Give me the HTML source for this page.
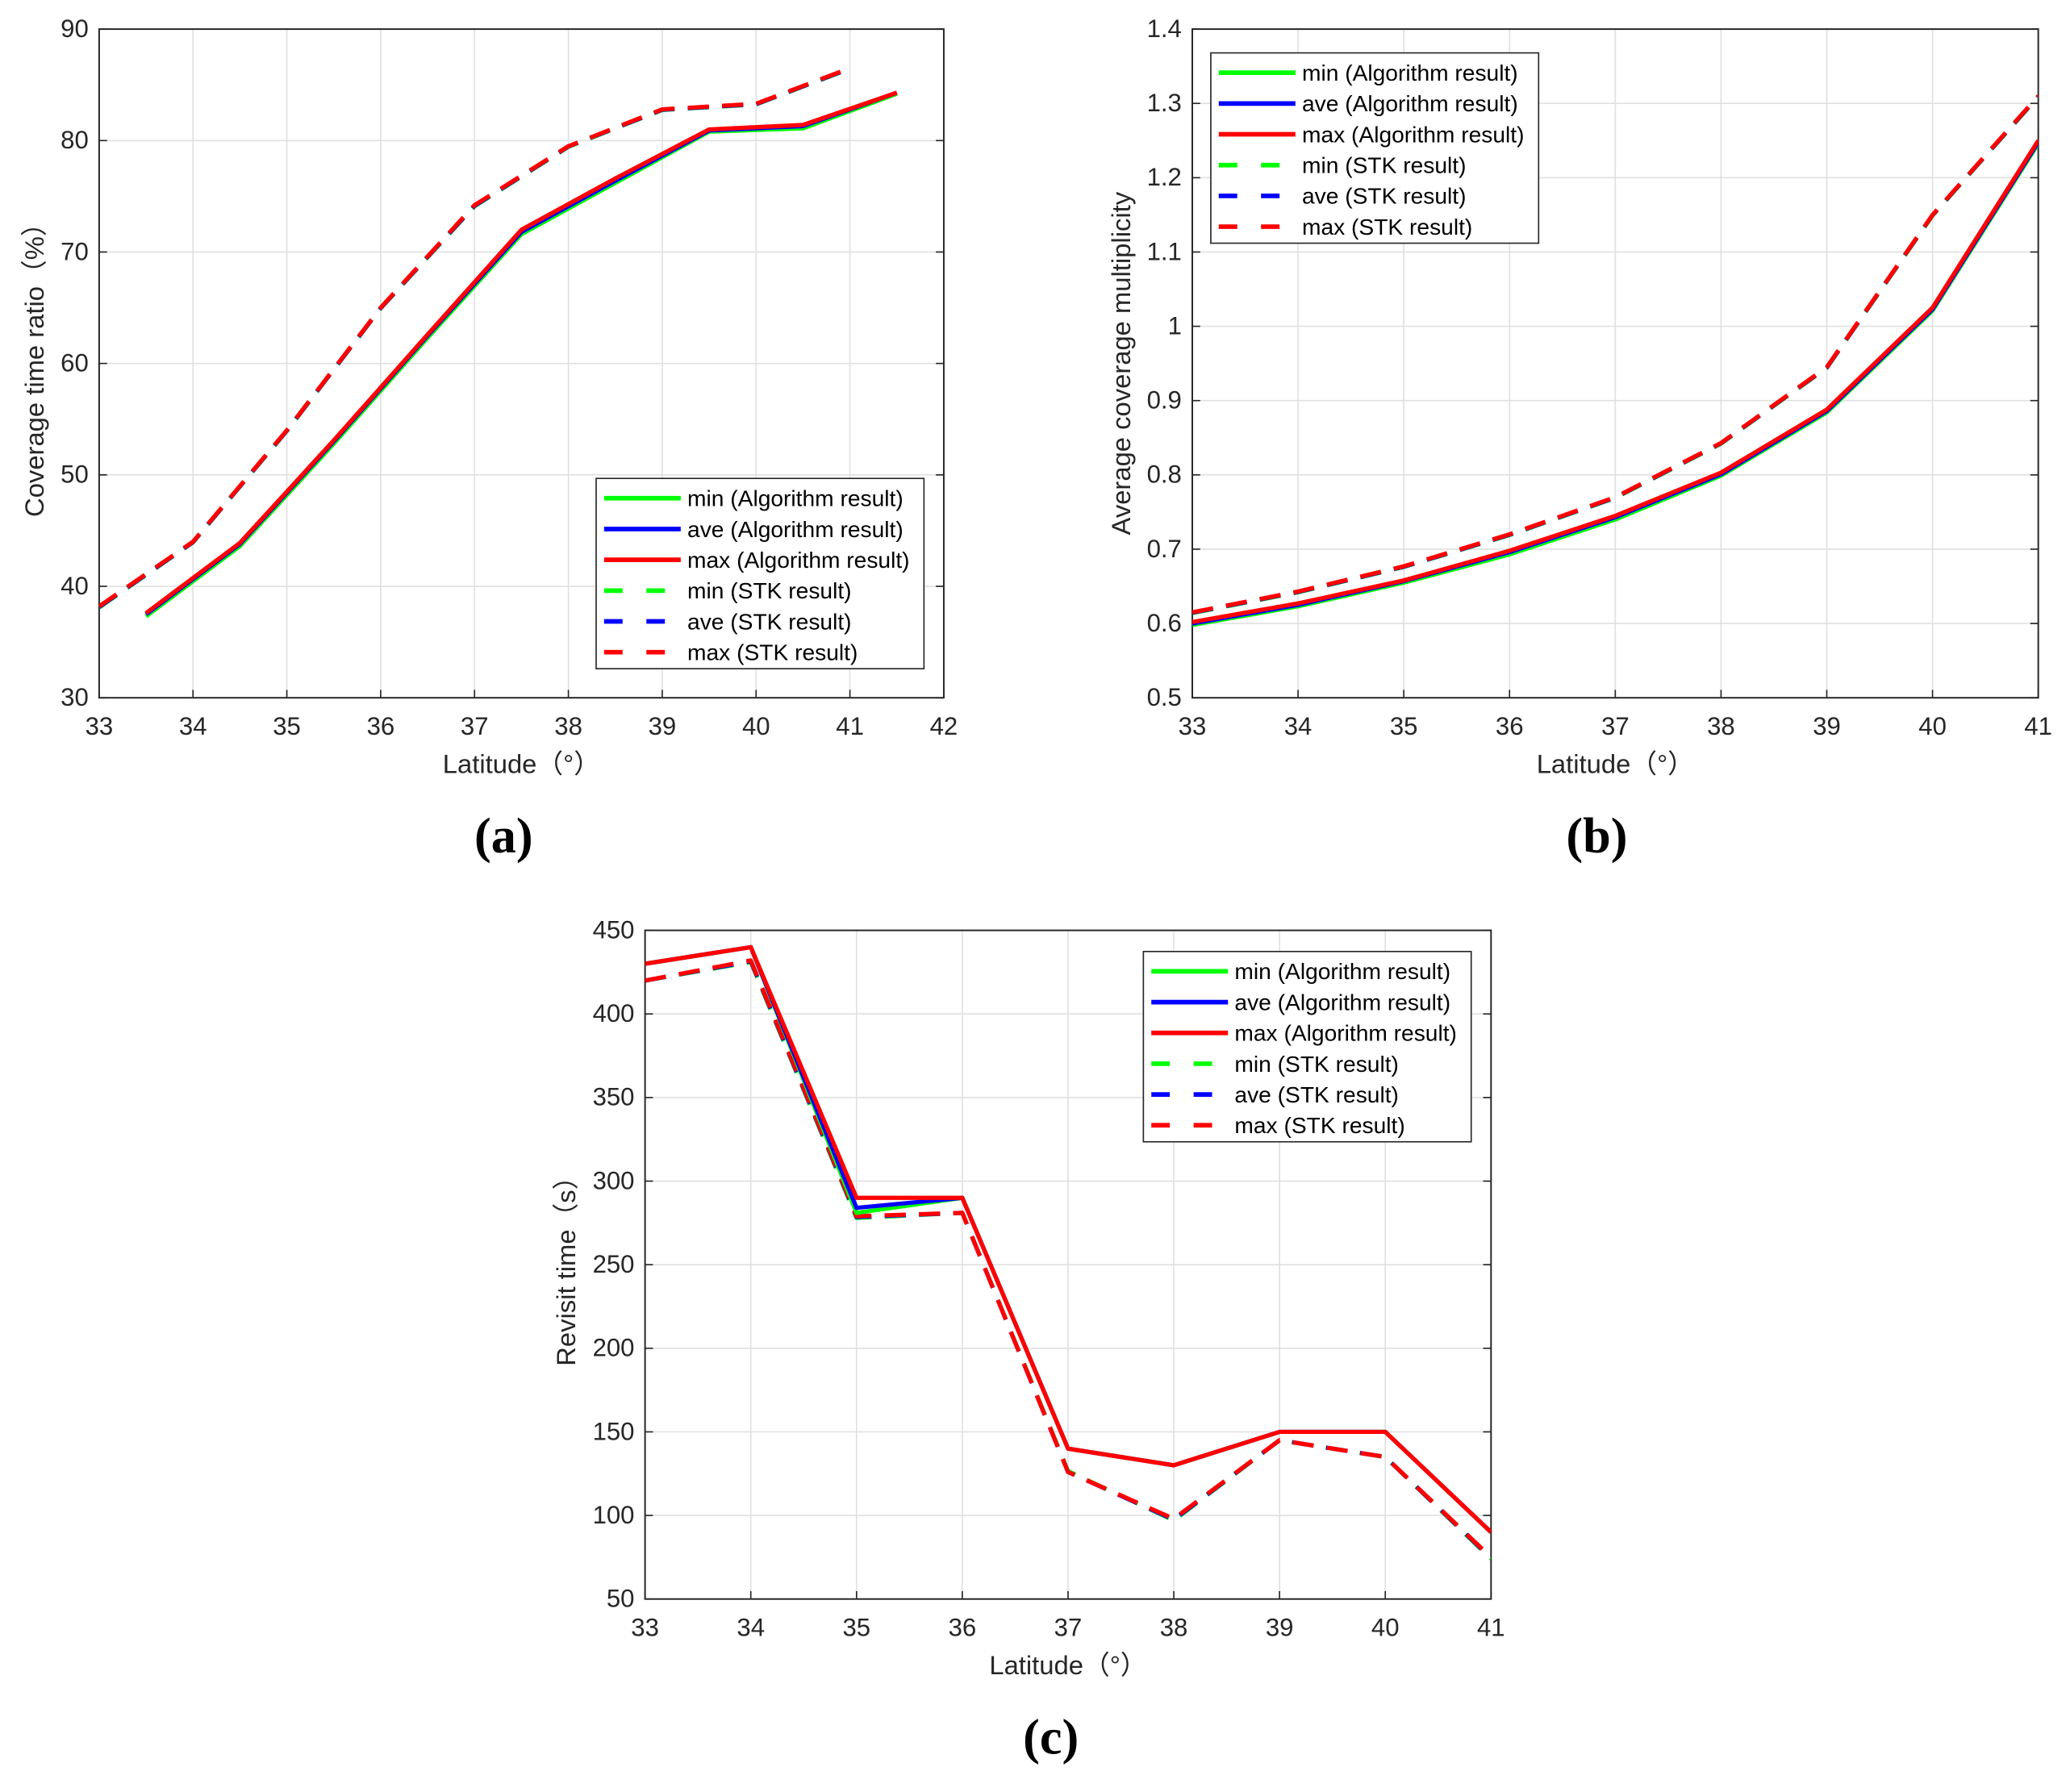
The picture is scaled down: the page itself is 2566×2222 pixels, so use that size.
<!DOCTYPE html>
<html><head><meta charset="utf-8"><style>
html,body{margin:0;padding:0;background:#fff;}
svg{display:block;font-family:"Liberation Sans",Arial,sans-serif;}
</style></head><body>
<svg id="fig" width="2566" height="2222" viewBox="0 0 1566 1356"></svg>
<script>
// Panel a data
const aAlgX = [33.5,34.5,35.5,36.5,37.5,38.5,39.5,40.5,41.5];
const aAlgMax = [37.6,43.9,53.1,62.6,72.0,76.6,81.0,81.4,84.3];
const aAlgAve = [37.5,43.8,53.0,62.5,71.8,76.4,80.9,81.3,84.3];
const aAlgMin = [37.3,43.6,52.8,62.3,71.6,76.2,80.8,81.1,84.2];
const aStkX = [33,34,35,36,37,38,39,40,41];
const aStkMax = [38.2,44.0,54.0,65.0,74.2,79.5,82.8,83.3,86.5];
const aStkAve = [38.15,43.97,53.97,64.97,74.15,79.47,82.77,83.27,86.47];
const aStkMin = [38.1,43.94,53.94,64.94,74.1,79.44,82.74,83.24,86.44];
const aXTicks = [33,34,35,36,37,38,39,40,41,42];
const aYTicks = [30,40,50,60,70,80,90];
// Panel b data
const bX = [33,34,35,36,37,38,39,40,41];
const bAlgMax = [0.602,0.627,0.658,0.698,0.745,0.803,0.888,1.025,1.25];
const bAlgAve = [0.600,0.625,0.657,0.696,0.743,0.801,0.886,1.023,1.248];
const bAlgMin = [0.598,0.623,0.655,0.693,0.740,0.799,0.884,1.021,1.246];
const bStkMax = [0.615,0.643,0.677,0.72,0.77,0.843,0.945,1.15,1.31];
const bStkAve = [0.6145,0.6425,0.6765,0.7195,0.7695,0.8425,0.9445,1.1495,1.3095];
const bStkMin = [0.614,0.642,0.676,0.719,0.769,0.842,0.944,1.149,1.309];
const bXTicks = [33,34,35,36,37,38,39,40,41];
const bYTicks = [0.5,0.6,0.7,0.8,0.9,1,1.1,1.2,1.3,1.4];
// Panel c data
const cX = [33,34,35,36,37,38,39,40,41];
const cAlgMax = [430,440,290,290,140,130,150,150,90];
const cAlgAve = [430,440,284,290,140,130,150,150,90];
const cAlgMin = [430,440,281,290,140,130,150,150,90];
const cStkMax = [420,432,279,281,126,98,145,135,75];
const cStkAve = [420,431.5,278.5,281,126,97.5,145,135,74.5];
const cStkMin = [420,431,278,281,126.5,97,145,135,74];
const cXTicks = [33,34,35,36,37,38,39,40,41];
const cYTicks = [50,100,150,200,250,300,350,400,450];

const NS = "http://www.w3.org/2000/svg";
const svg = document.getElementById('fig');
function mk(tag, attrs, parent){
  const e = document.createElementNS(NS, tag);
  for (const k in attrs) e.setAttribute(k, attrs[k]);
  (parent||svg).appendChild(e);
  return e;
}
function panel(o){
  const g = mk('g', {});
  
  
  const sx = v => o.x0 + (v - o.xmin) / (o.xmax - o.xmin) * (o.x1 - o.x0);
  const sy = v => o.y1 - (v - o.ymin) / (o.ymax - o.ymin) * (o.y1 - o.y0);
  mk('rect', {x:o.x0, y:o.y0, width:o.x1-o.x0, height:o.y1-o.y0, fill:'#fff'}, g);
  o.xt.forEach(t => {
    const X = sx(t);
    mk('line', {x1:X, x2:X, y1:o.y0, y2:o.y1, stroke:'#e0e0e0', 'stroke-width':1}, g);
    mk('line', {x1:X, x2:X, y1:o.y1, y2:o.y1-6, stroke:'#262626', 'stroke-width':1}, g);
    const tx = mk('text', {x:X, y:o.y1+28, 'font-size':19, 'text-anchor':'middle', fill:'#262626'}, g);
    tx.textContent = t;
    
    
  });
  o.yt.forEach(t => {
    const Y = sy(t);
    mk('line', {x1:o.x0, x2:o.x1, y1:Y, y2:Y, stroke:'#e0e0e0', 'stroke-width':1}, g);
    mk('line', {x1:o.x0, x2:o.x0+6, y1:Y, y2:Y, stroke:'#262626', 'stroke-width':1}, g);
    mk('line', {x1:o.x1, x2:o.x1-6, y1:Y, y2:Y, stroke:'#262626', 'stroke-width':1}, g);
    const tx = mk('text', {x:o.x0-8, y:Y+6, 'font-size':19, 'text-anchor':'end', fill:'#262626'}, g);
    tx.textContent = t;
    
    
  });
  mk('rect', {x:o.x0, y:o.y0, width:o.x1-o.x0, height:o.y1-o.y0, fill:'none', stroke:'#262626', 'stroke-width':1.2}, g);
  const clipId = 'clip-' + o.name;
  const cp = mk('clipPath', {id:clipId}, g);
  mk('rect', {x:o.x0, y:o.y0-4, width:o.x1-o.x0, height:o.y1-o.y0+8}, cp);
  const lg = mk('g', {'clip-path':'url(#'+clipId+')'}, g);
  o.series.forEach(s => {
    const pts = s.xs.map((x,i) => sx(x).toFixed(1)+','+sy(s.ys[i]).toFixed(1)).join(' ');
    const attrs = {points:pts, fill:'none', stroke:s.c, 'stroke-width':3.2, 'stroke-linejoin':'round'};
    if (s.d) attrs['stroke-dasharray'] = '16,10';
    const p = mk('polyline', attrs, lg);
    
    
  });
  const xl = mk('text', {x:(o.x0+o.x1)/2, y:o.y1+57, 'font-size':20, 'text-anchor':'middle', fill:'#262626'}, g);
  xl.textContent = 'Latitude（°）';
  
  
  const yl = mk('text', {x:0, y:0, 'font-size':20, 'text-anchor':'middle', fill:'#262626', transform:'translate('+o.ylx+','+((o.y0+o.y1)/2)+') rotate(-90)'}, g);
  yl.textContent = o.ylabel;
  
  
  const L = o.leg;
  const lgd = mk('g', {}, g);
  
  
  mk('rect', {x:L.x, y:L.y, width:248, height:144, fill:'#fff', stroke:'#262626', 'stroke-width':1}, lgd);
  const labels = ['min (Algorithm result)','ave (Algorithm result)','max (Algorithm result)','min (STK result)','ave (STK result)','max (STK result)'];
  const cols = ['#00ff00','#0000ff','#ff0000','#00ff00','#0000ff','#ff0000'];
  labels.forEach((t,i) => {
    const Y = L.y + 15 + i*23.3;
    const la = {x1:L.x+6, x2:L.x+64, y1:Y, y2:Y, stroke:cols[i], 'stroke-width':3.5};
    if (i>=3) la['stroke-dasharray'] = '14,18';
    mk('line', la, lgd);
    const tx = mk('text', {x:L.x+69, y:Y+6, 'font-size':17.2, fill:'#000'}, lgd);
    tx.textContent = t;
    
    
  });
  const cap = mk('text', {x:o.capx, y:o.capy, 'font-size':38, 'font-weight':'bold', 'text-anchor':'middle', fill:'#000', 'font-family':'"Liberation Serif",serif'}, g);
  cap.textContent = o.cap;
  
  
}
function ser(xs, mn, av, mx, smn, sav, smx, sxs){
  return [
    {n:'min-stk-line', xs:sxs, ys:smn, c:'#00ff00', d:true},
    {n:'ave-stk-line', xs:sxs, ys:sav, c:'#0000ff', d:true},
    {n:'max-stk-line', xs:sxs, ys:smx, c:'#ff0000', d:true},
    {n:'min-algorithm-line', xs:xs, ys:mn, c:'#00ff00'},
    {n:'ave-algorithm-line', xs:xs, ys:av, c:'#0000ff'},
    {n:'max-algorithm-line', xs:xs, ys:mx, c:'#ff0000'}
  ];
}
panel({name:'panel-a', x0:75, x1:714, y0:22, y1:528, xmin:33, xmax:42, ymin:30, ymax:90,
  xt:aXTicks, yt:aYTicks, ylabel:'Coverage time ratio（%）', ylx:33,
  series:ser(aAlgX,aAlgMin,aAlgAve,aAlgMax,aStkMin,aStkAve,aStkMax,aStkX),
  leg:{x:451,y:362}, cap:'(a)', capx:381, capy:645});
panel({name:'panel-b', x0:902, x1:1542, y0:22, y1:528, xmin:33, xmax:41, ymin:0.5, ymax:1.4,
  xt:bXTicks, yt:bYTicks, ylabel:'Average coverage multiplicity', ylx:855,
  series:ser(bX,bAlgMin,bAlgAve,bAlgMax,bStkMin,bStkAve,bStkMax,bX),
  leg:{x:916,y:40}, cap:'(b)', capx:1208, capy:645});
panel({name:'panel-c', x0:488, x1:1128, y0:704, y1:1210, xmin:33, xmax:41, ymin:50, ymax:450,
  xt:cXTicks, yt:cYTicks, ylabel:'Revisit time（s）', ylx:435,
  series:ser(cX,cAlgMin,cAlgAve,cAlgMax,cStkMin,cStkAve,cStkMax,cX),
  leg:{x:865,y:720}, cap:'(c)', capx:795, capy:1327});
</script>
</body></html>
